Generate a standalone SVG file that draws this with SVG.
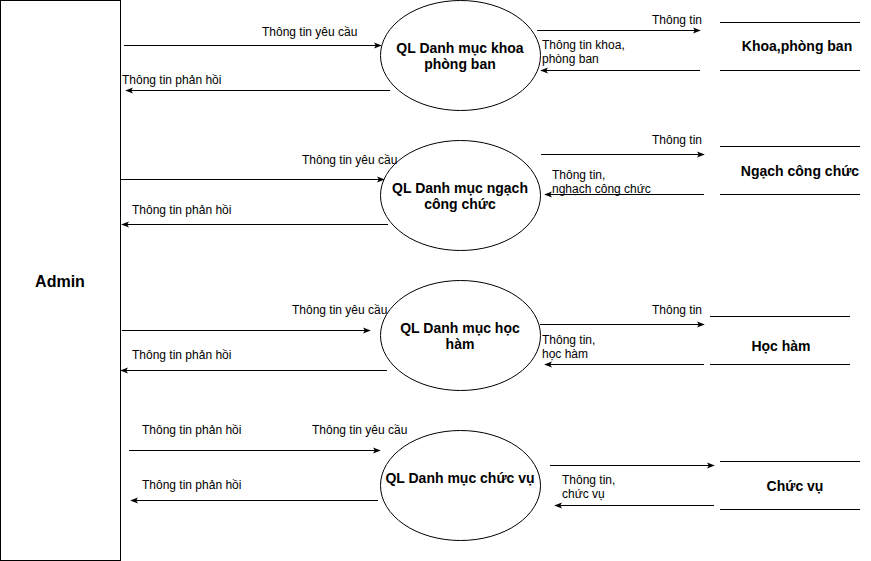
<svg xmlns="http://www.w3.org/2000/svg" width="871" height="561" viewBox="0 0 871 561">
<defs>
<marker id="arr" viewBox="0 0 10 10" refX="9" refY="5" markerWidth="8" markerHeight="8" markerUnits="userSpaceOnUse" orient="auto">
<path d="M0,1 L10,5 L0,9 L2.5,5 Z" fill="#000"/>
</marker>
<style>
.ln{stroke:#000;stroke-width:1;fill:none}
.ar{stroke:#000;stroke-width:1;fill:none;marker-end:url(#arr)}
.sh{fill:#fff;stroke:#000;stroke-width:1}
.lb{font-family:"Liberation Sans",Arial,sans-serif;font-size:12px;fill:#000}
.bt{font-family:"Liberation Sans",Arial,sans-serif;font-size:14px;font-weight:bold;fill:#000;text-anchor:middle}
</style>
</defs>
<rect width="871" height="561" fill="#fff"/>
<g id="admin">
<rect class="sh" x="0.5" y="0.5" width="120" height="560"/>
<text class="bt" x="60" y="287" style="font-size:16px">Admin</text>
</g>
<g id="p1">
<ellipse class="sh" cx="460.5" cy="55.5" rx="80" ry="55"/>
<text class="bt" x="460" y="53">QL Danh mục khoa</text>
<text class="bt" x="460" y="69">phòng ban</text>
</g>
<g id="p2">
<ellipse class="sh" cx="460.5" cy="195.5" rx="80" ry="55"/>
<text class="bt" x="460" y="193">QL Danh mục ngạch</text>
<text class="bt" x="460" y="209">công chức</text>
</g>
<g id="p3">
<ellipse class="sh" cx="460.5" cy="335.5" rx="80" ry="55"/>
<text class="bt" x="460" y="333">QL Danh mục học</text>
<text class="bt" x="460" y="349">hàm</text>
</g>
<g id="p4">
<ellipse class="sh" cx="460.5" cy="485.5" rx="80" ry="55"/>
<text class="bt" x="460" y="483">QL Danh mục chức vụ</text>
</g>
<g id="s1">
<line class="ln" x1="720" y1="22.5" x2="860" y2="22.5"/>
<line class="ln" x1="720" y1="70.5" x2="860" y2="70.5"/>
<text class="bt" x="797" y="51">Khoa,phòng ban</text>
</g>
<g id="s2">
<line class="ln" x1="720" y1="146.5" x2="860" y2="146.5"/>
<line class="ln" x1="720" y1="194.5" x2="860" y2="194.5"/>
<text class="bt" x="800" y="176">Ngạch công chức</text>
</g>
<g id="s3">
<line class="ln" x1="710" y1="316.5" x2="850" y2="316.5"/>
<line class="ln" x1="710" y1="364.5" x2="850" y2="364.5"/>
<text class="bt" x="781" y="351">Học hàm</text>
</g>
<g id="s4">
<line class="ln" x1="720" y1="461.5" x2="860" y2="461.5"/>
<line class="ln" x1="720" y1="509.5" x2="860" y2="509.5"/>
<text class="bt" x="795" y="491">Chức vụ</text>
</g>
<g id="connectors">
<line class="ar" x1="124" y1="45.5" x2="381" y2="45.5"/>
<text class="lb" x="262" y="36">Thông tin yêu cầu</text>
<line class="ar" x1="390" y1="90.5" x2="126" y2="90.5"/>
<text class="lb" x="122" y="84">Thông tin phản hồi</text>
<line class="ar" x1="537" y1="30.5" x2="700" y2="30.5"/>
<text class="lb" x="702" y="24" text-anchor="end">Thông tin</text>
<line class="ar" x1="700" y1="70.5" x2="541" y2="70.5"/>
<text class="lb" x="542" y="49">Thông tin khoa,</text>
<text class="lb" x="542" y="63">phòng ban</text>

<line class="ar" x1="121" y1="179.5" x2="384" y2="179.5"/>
<text class="lb" x="302" y="164">Thông tin yêu cầu</text>
<line class="ar" x1="388" y1="224.5" x2="122" y2="224.5"/>
<text class="lb" x="132" y="214">Thông tin phản hồi</text>
<line class="ar" x1="541" y1="154.5" x2="704" y2="154.5"/>
<text class="lb" x="702" y="144" text-anchor="end">Thông tin</text>
<line class="ar" x1="704" y1="194.5" x2="545" y2="194.5"/>
<text class="lb" x="552" y="179">Thông tin,</text>
<text class="lb" x="552" y="193">nghạch công chức</text>

<line class="ar" x1="122" y1="330.5" x2="370" y2="330.5"/>
<text class="lb" x="292" y="314">Thông tin yêu cầu</text>
<line class="ar" x1="387" y1="370.5" x2="121" y2="370.5"/>
<text class="lb" x="132" y="359">Thông tin phản hồi</text>
<line class="ar" x1="540" y1="324.5" x2="704" y2="324.5"/>
<text class="lb" x="702" y="314" text-anchor="end">Thông tin</text>
<line class="ar" x1="704" y1="364.5" x2="545" y2="364.5"/>
<text class="lb" x="542" y="344">Thông tin,</text>
<text class="lb" x="542" y="358">học hàm</text>

<line class="ar" x1="129" y1="450.5" x2="380" y2="450.5"/>
<text class="lb" x="142" y="434">Thông tin phản hồi</text>
<text class="lb" x="312" y="434">Thông tin yêu cầu</text>
<line class="ar" x1="378" y1="500.5" x2="131" y2="500.5"/>
<text class="lb" x="142" y="489">Thông tin phản hồi</text>
<line class="ar" x1="550" y1="465.5" x2="714" y2="465.5"/>
<line class="ar" x1="714" y1="505.5" x2="555" y2="505.5"/>
<text class="lb" x="562" y="484">Thông tin,</text>
<text class="lb" x="562" y="498">chức vụ</text>
</g>
</svg>
